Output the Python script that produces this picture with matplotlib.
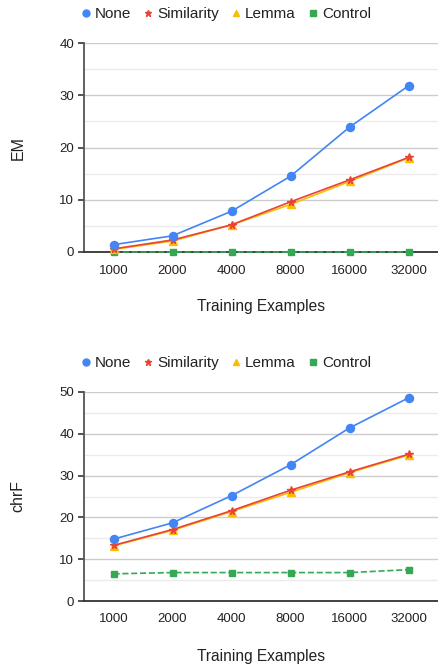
import matplotlib
matplotlib.use("Agg")
import matplotlib.pyplot as plt
from matplotlib.lines import Line2D
from matplotlib.ticker import MultipleLocator

plt.rcParams['font.family'] = ['Liberation Sans', 'DejaVu Sans']

categories = ["1000", "2000", "4000", "8000", "16000", "32000"]

em_none = [1.4, 3.1, 7.8, 14.5, 23.9, 31.8]
em_similarity = [0.6, 2.3, 5.2, 9.6, 13.8, 18.1]
em_lemma = [0.5, 2.1, 5.2, 9.1, 13.5, 18.0]
em_control = [0.0, 0.0, 0.0, 0.0, 0.0, 0.0]

chrf_none = [14.8, 18.7, 25.2, 32.6, 41.4, 48.6]
chrf_similarity = [13.3, 17.1, 21.6, 26.5, 30.9, 35.1]
chrf_lemma = [13.2, 16.9, 21.4, 26.0, 30.7, 34.9]
chrf_control = [6.5, 6.8, 6.8, 6.8, 6.8, 7.5]

series_names = ["None", "Similarity", "Lemma", "Control"]
colors = ["#4285F4", "#EA4335", "#FBBC04", "#34A853"]
markers = ["o", "*", "^", "s"]
msizes = [5.8, 5.5, 5.2, 4.8]
leg_sizes = [5, 5, 4.5, 4]

W, H = 438, 666
fig = plt.figure(figsize=(W / 100, H / 100), dpi=100)

def make_ax(bottom_px, top_px, ymax, data, ylabel, legend_y, xlabel_y):
    ax = fig.add_axes([84 / W, 1 - bottom_px / H, 1 - 84 / W, (bottom_px - top_px) / H])
    x = list(range(len(categories)))
    for i, (vals, c, m, ms) in enumerate(zip(data, colors, markers, msizes)):
        ls = '--' if i == 3 else '-'
        ax.plot(x, vals, color=c, marker=m, markersize=ms, linewidth=1.2,
                linestyle=ls, zorder=3 + (3 - i) * 0.1, clip_on=False)
    ax.set_xlim(-0.5, len(categories) - 0.5)
    ax.set_ylim(0, ymax)
    ax.set_xticks(x)
    ax.set_xticklabels(categories)
    ax.yaxis.set_major_locator(MultipleLocator(10))
    ax.yaxis.set_minor_locator(MultipleLocator(5))
    ax.grid(axis='y', which='major', color='#cccccc', linewidth=1.0, zorder=0)
    ax.grid(axis='y', which='minor', color='#ebebeb', linewidth=1.0, zorder=0)
    for s in ['top', 'right']:
        ax.spines[s].set_visible(False)
    ax.spines['left'].set_color('#555555')
    ax.spines['left'].set_linewidth(1.3)
    ax.spines['bottom'].set_color('#333333')
    ax.spines['bottom'].set_linewidth(1.3)
    ax.tick_params(axis='y', which='major', length=4, width=1.3, color='#444444',
                   labelsize=9.5, labelcolor='#222222', pad=3)
    ax.tick_params(axis='y', which='minor', length=0)
    ax.tick_params(axis='x', length=0, labelsize=9.5, labelcolor='#222222', pad=9)
    ax.set_axisbelow(True)
    fig.text(18 / W, 1 - ((top_px + bottom_px) / 2) / H, ylabel, rotation=90,
             ha='center', va='center', fontsize=11.5, color='#222222')
    fig.text((84 + 438) / 2 / W, 1 - xlabel_y / H, "Training Examples",
             ha='center', va='center', fontsize=11.2, color='#222222')
    handles = [Line2D([], [], color=c, marker=m, linestyle='None', markersize=s)
               for c, m, s in zip(colors, markers, leg_sizes)]
    fig.legend(handles, series_names, loc='center', bbox_to_anchor=(226 / W, 1 - legend_y / H),
               ncol=4, frameon=False, fontsize=11, handlelength=0.6, handletextpad=0.3,
               columnspacing=0.8, labelcolor='#222222')
    return ax

make_ax(252, 43, 40, [em_none, em_similarity, em_lemma, em_control], "EM", 14, 307)
make_ax(601, 392, 50, [chrf_none, chrf_similarity, chrf_lemma, chrf_control], "chrF", 363, 656)

fig.savefig("out.png", dpi=100)
